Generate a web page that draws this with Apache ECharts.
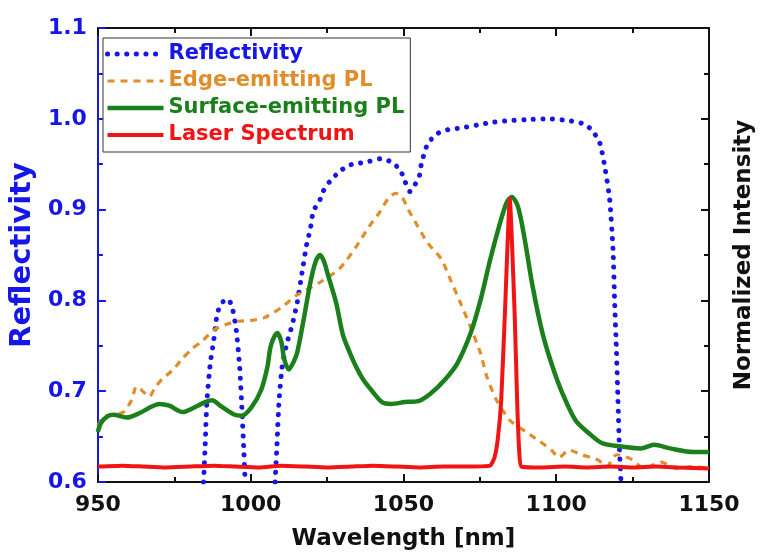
<!DOCTYPE html>
<html>
<head>
<meta charset="utf-8">
<script src="https://cdn.jsdelivr.net/npm/echarts@6/dist/echarts.min.js"></script>
<style>
html,body{margin:0;padding:0;background:#fff;}
#chart{width:764px;height:557px;}
</style>
</head>
<body>
<div id="chart"></div>
<script>
// ---- data ----
var seriesNames = ['Reflectivity', 'Edge-emitting PL', 'Surface-emitting PL', 'Laser Spectrum'];
var xTicks = [950, 1000, 1050, 1100, 1150];
var yTicks = [0.6, 0.7, 0.8, 0.9, 1.0, 1.1];

// Reflectivity (null = drops below axis range)
var reflWl  = [984.6, 985.1, 985.7, 986.8, 987.8, 988.9, 990.0, 991.5, 992.7, 994.0, 995.3, 996.4, 997.2, 997.8, 998.2,
               1003.0,
               1008.0, 1008.6, 1009.3, 1010.3, 1011.8, 1013.6, 1015.2, 1016.8, 1018.4, 1019.5, 1020.5, 1022.7, 1023.7, 1025.9,
               1029.1, 1032.3, 1035.5, 1038.7, 1042.5, 1045.7, 1048.9, 1050.5, 1052.1, 1053.7, 1055.3, 1055.9, 1058.0, 1061.3,
               1064.5, 1069.0, 1074.0, 1079.0, 1084.7, 1090.0, 1097.6, 1104.0, 1108.4, 1111.6, 1114.3, 1115.9, 1117.5, 1118.6,
               1119.1, 1119.7, 1120.2, 1120.7, 1121.2];
var reflVal = [0.600, 0.639, 0.690, 0.731, 0.753, 0.782, 0.795, 0.800, 0.801, 0.792, 0.767, 0.727, 0.676, 0.632, 0.600,
               null,
               0.600, 0.640, 0.690, 0.727, 0.752, 0.773, 0.797, 0.830, 0.863, 0.878, 0.898, 0.911, 0.920, 0.931,
               0.942, 0.949, 0.951, 0.953, 0.956, 0.953, 0.944, 0.931, 0.920, 0.927, 0.938, 0.951, 0.973, 0.984,
               0.988, 0.990, 0.993, 0.996, 0.998, 0.999, 1.000, 0.998, 0.995, 0.988, 0.973, 0.947, 0.911, 0.855,
               0.800, 0.745, 0.690, 0.635, 0.600];

// Edge-emitting PL
var edgeWl  = [950.0, 951.9, 955.1, 958.4, 961.0, 962.6, 964.0, 965.3, 966.9, 968.5, 971.2, 974.4, 977.7, 980.9, 984.1,
               987.8, 991.5, 995.9, 1000.2, 1004.5, 1010.0, 1015.2, 1022.7, 1029.1, 1034.5, 1038.7, 1042.0, 1045.2, 1047.5,
               1049.5, 1051.6, 1054.8, 1058.0, 1062.3, 1065.5, 1068.7, 1071.9, 1075.2, 1077.3, 1080.5, 1084.8, 1090.2, 1094.5,
               1098.5, 1100.9, 1104.1, 1108.4, 1113.8, 1116.5, 1119.7, 1124.1, 1128.9, 1134.2, 1139.5, 1144.9, 1150.0];
var edgeVal = [0.662, 0.672, 0.674, 0.677, 0.690, 0.705, 0.702, 0.698, 0.694, 0.703, 0.714, 0.723, 0.736, 0.747, 0.755,
               0.767, 0.773, 0.777, 0.778, 0.781, 0.792, 0.806, 0.820, 0.835, 0.859, 0.881, 0.896, 0.913, 0.918,
               0.914, 0.900, 0.881, 0.863, 0.846, 0.822, 0.797, 0.771, 0.742, 0.716, 0.690, 0.668, 0.655, 0.645,
               0.635, 0.627, 0.635, 0.630, 0.624, 0.617, 0.630, 0.626, 0.615, 0.622, 0.615, 0.617, 0.615];

// Surface-emitting PL
var surfWl  = [950.0, 951.0, 953.0, 955.1, 959.4, 963.7, 967.0, 970.1, 973.4, 977.7, 980.9, 985.1, 987.3, 990.5, 994.8,
               997.0, 1000.2, 1003.4, 1005.5, 1006.6, 1008.7, 1010.0, 1011.0, 1012.5, 1014.0, 1015.2, 1017.3, 1019.5, 1021.2,
               1022.7, 1024.0, 1025.3, 1028.0, 1030.2, 1032.5, 1034.5, 1037.0, 1039.8, 1043.0, 1046.0, 1050.5, 1054.8, 1059.1,
               1063.4, 1067.7, 1072.0, 1075.2, 1078.4, 1081.6, 1083.8, 1085.4, 1087.5, 1089.7, 1092.3, 1095.5, 1098.8, 1102.0,
               1106.3, 1110.6, 1114.9, 1121.3, 1127.7, 1132.0, 1137.3, 1144.9, 1150.0];
var surfVal = [0.655, 0.665, 0.672, 0.674, 0.671, 0.676, 0.682, 0.686, 0.684, 0.677, 0.681, 0.688, 0.690, 0.683, 0.674,
               0.673, 0.682, 0.701, 0.727, 0.750, 0.764, 0.755, 0.735, 0.724, 0.732, 0.742, 0.778, 0.819, 0.842,
               0.850, 0.843, 0.828, 0.797, 0.762, 0.742, 0.727, 0.712, 0.700, 0.688, 0.686, 0.688, 0.689, 0.698,
               0.712, 0.731, 0.764, 0.800, 0.845, 0.885, 0.908, 0.914, 0.903, 0.867, 0.815, 0.764, 0.727, 0.698,
               0.668, 0.654, 0.643, 0.639, 0.637, 0.641, 0.637, 0.633, 0.633];

// Laser spectrum
var laserWl  = [950, 958, 965, 972, 980, 988, 995, 1003, 1010, 1018, 1025, 1033, 1040, 1048, 1055, 1063, 1070, 1078.4,
                1079.8, 1080.9, 1082.0, 1083.2, 1084.8, 1086.4, 1087.3, 1088.0, 1088.6, 1095, 1103, 1110, 1118, 1125,
                1133, 1140, 1150];
var laserVal = [0.617, 0.618, 0.617, 0.616, 0.617, 0.618, 0.617, 0.616, 0.618, 0.617, 0.616, 0.617, 0.618, 0.617, 0.616,
                0.617, 0.617, 0.618, 0.627, 0.648, 0.690, 0.785, 0.912, 0.785, 0.680, 0.628, 0.617, 0.616, 0.617,
                0.616, 0.617, 0.616, 0.617, 0.616, 0.615];

// ---- chart ----
function pairs(xs, ys) { return xs.map(function (x, i) { return [x, ys[i]]; }); }

var BLUE = '#1616e8', ORANGE = '#e08e2c', GREEN = '#1b801b', RED = '#f01414';
var FONT = 'DejaVu Sans';

var styles = [
  {color: BLUE, width: 5, type: [0.1, 9.5], cap: 'round'},
  {color: ORANGE, width: 3.2, type: [7, 6]},
  {color: GREEN, width: 4.5},
  {color: RED, width: 4}
];
var colors = [BLUE, ORANGE, GREEN, RED];

var chart = echarts.init(document.getElementById('chart'), null, {renderer: 'canvas'});

var xCommon = {
  type: 'value', min: xTicks[0], max: xTicks[xTicks.length - 1], interval: 50,
  splitLine: {show: false},
  axisLine: {show: true, lineStyle: {color: '#111', width: 2}},
  axisTick: {show: true, inside: true, length: 8, lineStyle: {color: '#111', width: 2}},
  minorTick: {show: true, splitNumber: 2, length: 5, lineStyle: {color: '#111', width: 2}}
};
var yCommon = {
  type: 'value', min: yTicks[0], max: yTicks[yTicks.length - 1], interval: 0.1,
  splitLine: {show: false},
  nameLocation: 'middle', nameRotate: 90
};

chart.setOption({
  animation: false,
  backgroundColor: '#fff',
  grid: {left: 94, right: 48, top: 28, bottom: 75, containLabel: false},
  legend: {
    orient: 'vertical',
    left: 103, top: 38,
    padding: [4, 6, 5, 2],
    itemGap: 3,
    itemWidth: 56, itemHeight: 14,
    borderColor: '#333', borderWidth: 1,
    backgroundColor: '#fff',
    itemStyle: {opacity: 0},
    textStyle: {fontFamily: FONT, fontWeight: 'bold', fontSize: 21, lineHeight: 24},
    data: seriesNames.map(function (n, i) {
      return {name: n, textStyle: {color: colors[i]}, lineStyle: styles[i], itemStyle: {opacity: 0}};
    })
  },
  xAxis: [
    Object.assign({}, xCommon, {
      position: 'bottom',
      name: 'Wavelength [nm]', nameLocation: 'middle', nameGap: 46,
      nameTextStyle: {fontFamily: FONT, fontWeight: 'bold', fontSize: 23, color: '#111'},
      axisLabel: {show: true, margin: 12, fontFamily: FONT, fontWeight: 'bold', fontSize: 22, color: '#111',
        formatter: function (v) { return String(v); }}
    }),
    Object.assign({}, xCommon, {position: 'top', axisLabel: {show: false}})
  ],
  yAxis: [
    Object.assign({}, yCommon, {
      position: 'left',
      name: 'Reflectivity', nameGap: 56,
      nameTextStyle: {fontFamily: FONT, fontWeight: 'bold', fontSize: 29, color: BLUE},
      axisLine: {show: true, lineStyle: {color: BLUE, width: 2}},
      axisTick: {show: true, inside: true, length: 8, lineStyle: {color: BLUE, width: 2}},
      minorTick: {show: true, splitNumber: 2, length: 5, lineStyle: {color: BLUE, width: 2}},
      axisLabel: {show: true, margin: 11, fontFamily: FONT, fontWeight: 'bold', fontSize: 22, color: BLUE,
        formatter: function (v) { return v.toFixed(1); }}
    }),
    Object.assign({}, yCommon, {
      position: 'right',
      name: 'Normalized Intensity', nameGap: 24,
      nameTextStyle: {fontFamily: FONT, fontWeight: 'bold', fontSize: 23, color: '#111'},
      axisLine: {show: true, lineStyle: {color: '#111', width: 2}},
      axisTick: {show: true, inside: true, length: 8, lineStyle: {color: '#111', width: 2}},
      minorTick: {show: true, splitNumber: 2, length: 5, lineStyle: {color: '#111', width: 2}},
      axisLabel: {show: false}
    })
  ],
  series: [
    {
      name: seriesNames[0], type: 'line', xAxisIndex: 0, yAxisIndex: 0,
      data: pairs(reflWl, reflVal), symbol: 'none', smooth: 0.2, connectNulls: false,
      color: BLUE, lineStyle: styles[0]
    },
    {
      name: seriesNames[1], type: 'line', xAxisIndex: 0, yAxisIndex: 0,
      data: pairs(edgeWl, edgeVal), symbol: 'none', smooth: 0.25,
      color: ORANGE, lineStyle: styles[1]
    },
    {
      name: seriesNames[2], type: 'line', xAxisIndex: 0, yAxisIndex: 0,
      data: pairs(surfWl, surfVal), symbol: 'none', smooth: 0.3,
      color: GREEN, lineStyle: styles[2]
    },
    {
      name: seriesNames[3], type: 'line', xAxisIndex: 0, yAxisIndex: 0,
      data: pairs(laserWl, laserVal), symbol: 'none', smooth: 0.15,
      color: RED, lineStyle: styles[3]
    }
  ]
});
</script>
</body>
</html>
